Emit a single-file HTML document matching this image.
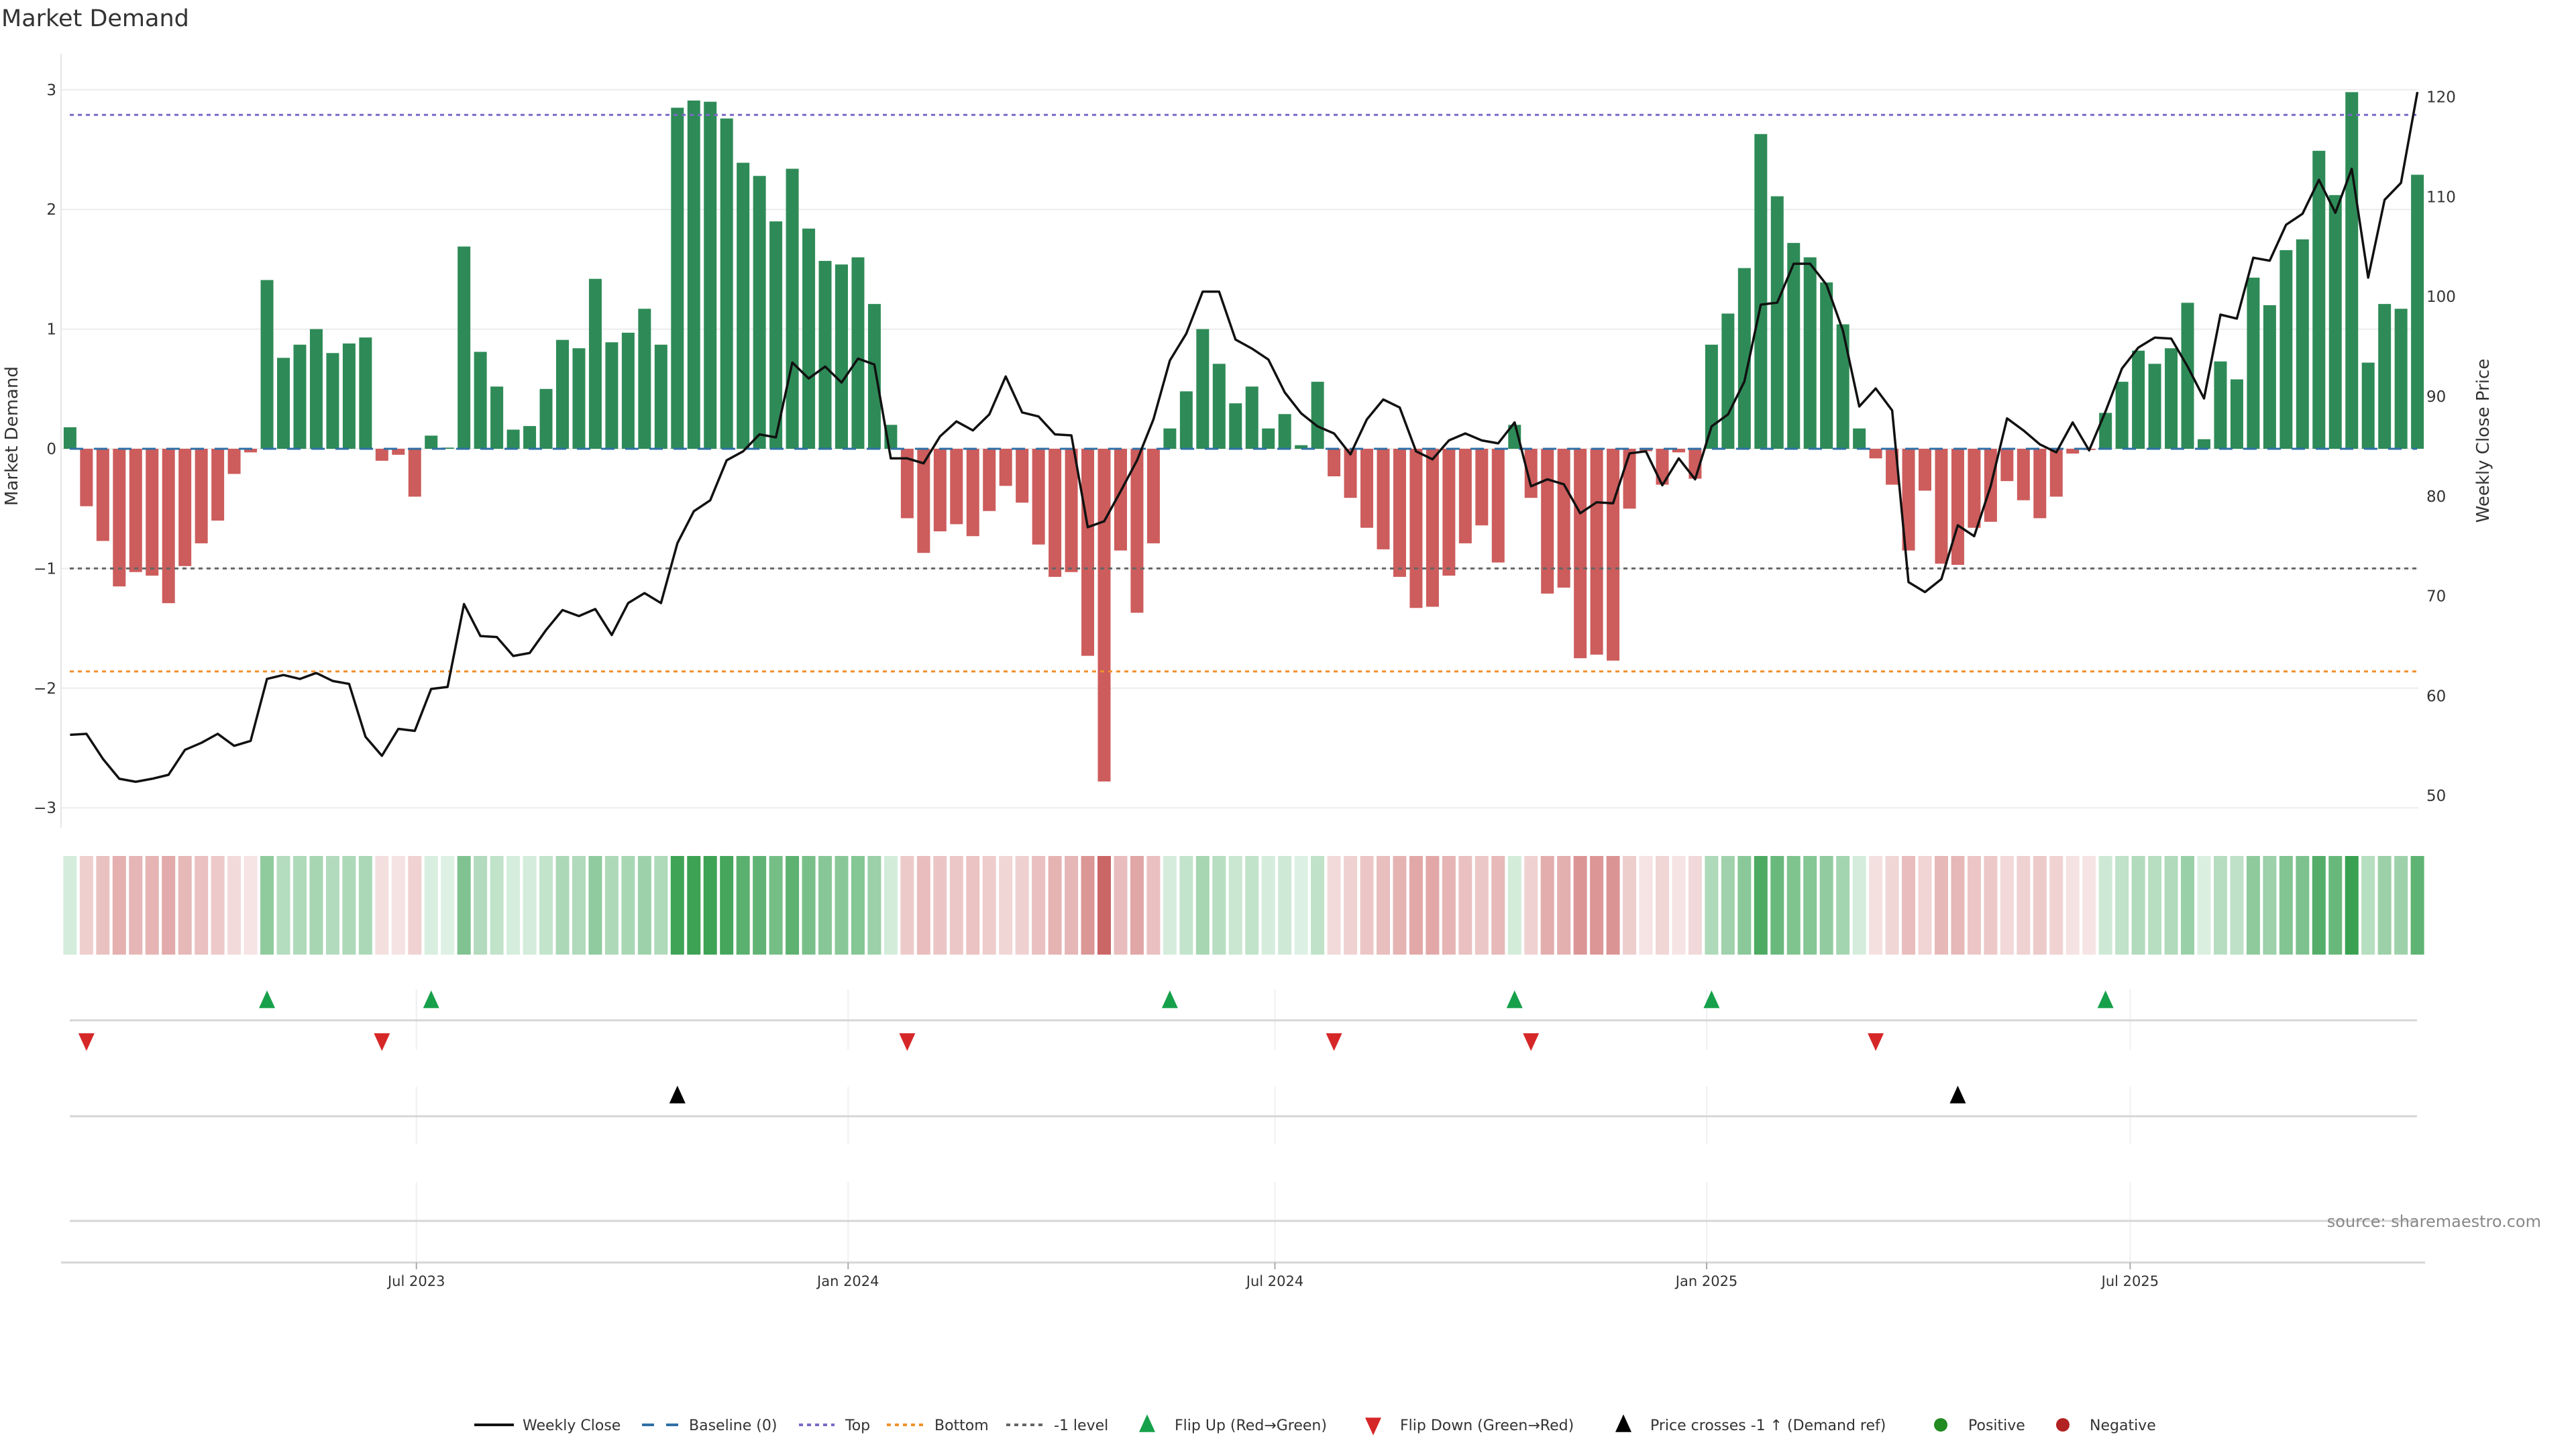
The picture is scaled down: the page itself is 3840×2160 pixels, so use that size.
<!DOCTYPE html>
<html><head><meta charset="utf-8"><title>Market Demand</title>
<style>
html,body{margin:0;padding:0;background:#fff;}
svg{display:block;font-family:"DejaVu Sans","Liberation Sans",sans-serif;}
</style></head>
<body>
<svg id="chart" xmlns="http://www.w3.org/2000/svg" width="3840" height="2160" viewBox="0 0 3840 2160">
<rect x="0" y="0" width="3840" height="2160" fill="#fff"/>
<text x="2" y="39" font-size="35" fill="#333">Market Demand</text>
<g id="main"></g>
<g id="heat"></g>
<g id="flips"></g>
<g id="xaxis"></g>
<g id="legend"></g>
<text x="3788" y="1829" font-size="24" fill="#888" text-anchor="end">source: sharemaestro.com</text>
</svg>
<script>
const demand = [0.18,-0.48,-0.77,-1.15,-1.03,-1.06,-1.29,-0.98,-0.79,-0.60,-0.21,-0.03,
1.41,0.76,0.87,1.00,0.80,0.88,0.93,-0.10,-0.05,-0.40,0.11,0.01,1.69,0.81,0.52,0.16,0.19,0.50,
0.91,0.84,1.42,0.89,0.97,1.17,0.87,2.85,2.91,2.90,2.76,2.39,2.28,1.90,2.34,1.84,1.57,1.54,1.60,1.21,
0.20,-0.58,-0.87,-0.69,-0.63,-0.73,-0.52,-0.31,-0.45,-0.80,-1.07,-1.03,-1.73,-2.78,-0.85,-1.37,-0.79,
0.17,0.48,1.00,0.71,0.38,0.52,0.17,0.29,0.03,0.56,-0.23,-0.41,-0.66,-0.84,-1.07,-1.33,-1.32,-1.06,
-0.79,-0.64,-0.95,0.20,-0.41,-1.21,-1.16,-1.75,-1.72,-1.77,-0.50,-0.02,-0.30,-0.03,-0.25,
0.87,1.13,1.51,2.63,2.11,1.72,1.60,1.39,1.04,0.17,-0.08,-0.30,-0.85,-0.35,-0.96,-0.97,-0.66,-0.61,
-0.27,-0.43,-0.58,-0.40,-0.04,-0.01,0.30,0.56,0.82,0.71,0.84,1.22,0.08,0.73,0.58,1.43,1.20,1.66,
1.75,2.49,2.12,2.98,0.72,1.21,1.17,2.29];
const price = [56.1,56.2,53.7,51.7,51.4,51.7,52.1,54.6,55.3,56.2,55.0,55.5,61.7,62.1,61.7,62.3,61.5,61.2,
55.9,54.0,56.7,56.5,60.7,60.9,69.2,66.0,65.9,64.0,64.3,66.6,68.6,68.0,68.7,66.1,69.3,70.3,69.3,75.3,
78.5,79.6,83.6,84.5,86.2,85.9,93.4,91.8,93.0,91.4,93.8,93.2,83.8,83.8,83.3,86.0,87.5,86.6,88.2,92.0,
88.4,88.0,86.2,86.1,76.9,77.5,80.5,83.6,87.7,93.6,96.3,100.5,100.5,95.7,94.8,93.7,90.4,88.3,87.0,
86.3,84.2,87.7,89.7,88.9,84.5,83.7,85.6,86.3,85.6,85.3,87.4,81.0,81.7,81.2,78.3,79.4,79.3,84.3,84.5,
81.1,83.8,81.7,87.0,88.2,91.5,99.2,99.4,103.3,103.3,101.2,96.6,89.0,90.8,88.6,71.4,70.4,71.7,77.1,
76.0,81.0,87.8,86.6,85.2,84.4,87.4,84.6,88.5,92.8,94.9,95.9,95.8,93.0,89.8,98.2,97.8,103.9,103.6,
107.2,108.3,111.7,108.4,112.8,101.9,109.7,111.4,120.5];
const demandTicks = [3,2,1,0,-1,-2,-3];
const priceTicks = [120,110,100,90,80,70,60,50];
const refLevels = [2.79,-1.86,-1.0];
const flipUpIdx = [12,22,67,88,100,124];
const flipDownIdx = [1,19,51,77,89,110];
const crossIdx = [37,115];
const dateTicks = ["Jul 2023","Jan 2024","Jul 2024","Jan 2025","Jul 2025"];
const dateTickWeeks = [21.1,47.4,73.4,99.7,125.5];

const NS="http://www.w3.org/2000/svg";
function mk(tag, attrs, parent){const e=document.createElementNS(NS,tag);for(const k in attrs)e.setAttribute(k,attrs[k]);parent.appendChild(e);return e;}
const X0=104.4, STEP=24.47, BW=19;
const xs = i => X0 + i*STEP;
const yd = v => 669 - v*178.4;
const yp = p => 144.6 + (120-p)*14.88;

const main=document.getElementById('main');
demandTicks.forEach(t=>{
  const l=mk('line',{x1:91,x2:3605,y1:yd(t),y2:yd(t),stroke:'#ececec','stroke-width':2},main);
  
  
  const tx=mk('text',{x:84,y:yd(t)+8,'font-size':23,fill:'#333','text-anchor':'end'},main);
  tx.textContent = t<0 ? '\u2212'+Math.abs(t) : String(t);
  
  
});
const ax=mk('line',{x1:91,x2:91,y1:80,y2:1234,stroke:'#e6e6e6','stroke-width':2},main);


priceTicks.forEach(t=>{
  const tx=mk('text',{x:3617,y:yp(t)+8,'font-size':23,fill:'#333'},main);
  tx.textContent=String(t);
  
  
});
let t1=mk('text',{x:0,y:0,'font-size':26,fill:'#333','text-anchor':'middle',transform:'translate(26,650) rotate(-90)'},main);
t1.textContent='Market Demand';


let t2=mk('text',{x:0,y:0,'font-size':26,fill:'#333','text-anchor':'middle',transform:'translate(3710,657) rotate(-90)'},main);
t2.textContent='Weekly Close Price';


demand.forEach((v,i)=>{
  const y=Math.min(yd(v),yd(0)), h=Math.abs(yd(v)-yd(0));
  const b=mk('rect',{x:xs(i)-BW/2,y:y,width:BW,height:Math.max(h,1),fill:v>=0?'#2e8b57':'#cd5c5c'},main);
  
  
});
const refColors=['#7b68c8','#f0902a','#666'];
const refNames=['top-line','bottom-line','minus-one-line'];
refLevels.forEach((v,i)=>{
  const l=mk('line',{x1:104,x2:3603,y1:yd(v),y2:yd(v),stroke:refColors[i],'stroke-width':3,'stroke-dasharray':'6 6'},main);
  
  
});
const bl=mk('line',{x1:104,x2:3603,y1:yd(0),y2:yd(0),stroke:'#2f6fa5','stroke-width':3,'stroke-dasharray':'20 16'},main);


const pl=mk('polyline',{points:price.map((p,i)=>xs(i).toFixed(1)+','+yp(p).toFixed(1)).join(' '),fill:'none',stroke:'#111','stroke-width':3.5,'stroke-linejoin':'round'},main);



const heat=document.getElementById('heat');
function mix(a,b,t){return 'rgb('+a.map((c,k)=>Math.round(c+(b[k]-c)*t)).join(',')+')';}
demand.forEach((v,i)=>{
  const t=Math.min(Math.abs(v)/3,1);
  const c = v>=0 ? mix([222,241,228],[56,160,80],t) : mix([246,228,228],[200,92,92],t);
  const r=mk('rect',{x:xs(i)-BW/2-0.5,y:1276,width:BW+1,height:147,fill:c},heat);
  
  
});

const fl=document.getElementById('flips');
const dateX = w => X0 + w*STEP;
dateTickWeeks.forEach(w=>{
  [[1475,1565],[1620,1705],[1762,1882]].forEach(s=>{
    const g=mk('line',{x1:dateX(w),x2:dateX(w),y1:s[0],y2:s[1],stroke:'#eef0f3','stroke-width':2},fl);
    
    
  });
});
[1521,1664,1820].forEach(y=>{
  const l=mk('line',{x1:104,x2:3603,y1:y,y2:y,stroke:'#d6d6d6','stroke-width':3},fl);
  
  
});
function tri(cx,cy,up,color,parent){
  const s=12;
  const pts = up ? [[cx,cy-s*1.3],[cx-s,cy+s*0.9],[cx+s,cy+s*0.9]] : [[cx,cy+s*1.3],[cx-s,cy-s*0.9],[cx+s,cy-s*0.9]];
  return mk('polygon',{points:pts.map(p=>p.join(',')).join(' '),fill:color},parent);
}
flipUpIdx.forEach(i=>{const m=tri(xs(i),1492,true,'#16a04a',fl);
  
  });
flipDownIdx.forEach(i=>{const m=tri(xs(i),1551,false,'#d62728',fl);
  
  });
crossIdx.forEach(i=>{const m=tri(xs(i),1634,true,'#000',fl);
  
  });

const xa=document.getElementById('xaxis');
const xl=mk('line',{x1:91,x2:3615,y1:1882,y2:1882,stroke:'#d6d6d6','stroke-width':3},xa);


dateTicks.forEach((d,k)=>{
  const x=dateX(dateTickWeeks[k]);
  const tk=mk('line',{x1:x,x2:x,y1:1882,y2:1892,stroke:'#aaa','stroke-width':2},xa);
  
  
  const t=mk('text',{x:x,y:1917,'font-size':21,fill:'#333','text-anchor':'middle'},xa);
  t.textContent=d;
  
  
});

const lg=document.getElementById('legend');
const LY=2124;
function ltext(x,s){const t=mk('text',{x:x,y:LY+8,'font-size':22,fill:'#333'},lg);t.textContent=s;
  
  return t;}
let e;
e=mk('line',{x1:707,x2:766,y1:LY,y2:LY,stroke:'#111','stroke-width':4},lg);


ltext(779,'Weekly Close');
e=mk('line',{x1:957,x2:1011,y1:LY,y2:LY,stroke:'#2f6fa5','stroke-width':4,'stroke-dasharray':'18 18'},lg);


ltext(1027,'Baseline (0)');
e=mk('line',{x1:1191,x2:1244,y1:LY,y2:LY,stroke:'#7b68c8','stroke-width':4,'stroke-dasharray':'6 6'},lg);


ltext(1260,'Top');
e=mk('line',{x1:1322,x2:1376,y1:LY,y2:LY,stroke:'#f0902a','stroke-width':4,'stroke-dasharray':'6 6'},lg);


ltext(1393,'Bottom');
e=mk('line',{x1:1500,x2:1554,y1:LY,y2:LY,stroke:'#666','stroke-width':4,'stroke-dasharray':'6 6'},lg);


ltext(1571,'-1 level');
e=tri(1710,LY,true,'#16a04a',lg);


ltext(1751,'Flip Up (Red\u2192Green)');
e=tri(2047,LY,false,'#d62728',lg);


ltext(2087,'Flip Down (Green\u2192Red)');
e=tri(2420,LY,true,'#000',lg);


ltext(2460,'Price crosses -1 \u2191 (Demand ref)');
e=mk('circle',{cx:2893,cy:LY,r:10,fill:'#228b22'},lg);


ltext(2934,'Positive');
e=mk('circle',{cx:3075,cy:LY,r:10,fill:'#b22222'},lg);


ltext(3115,'Negative');
</script>
</body></html>
